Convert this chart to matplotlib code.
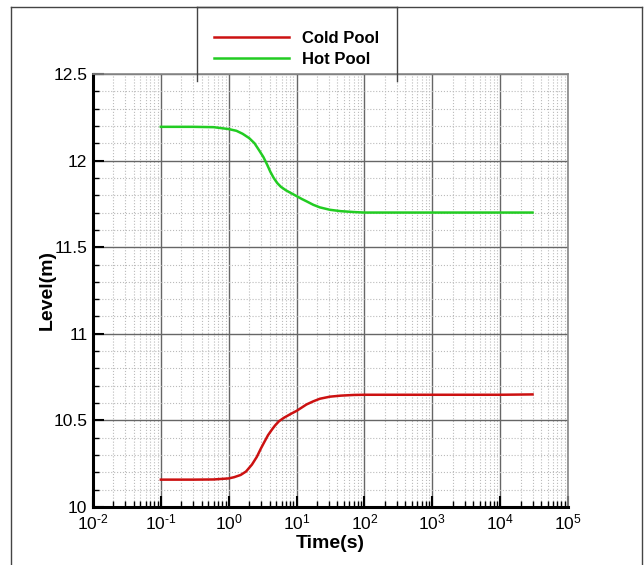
import numpy as np
import matplotlib
matplotlib.use('Agg')
import matplotlib.pyplot as plt
from matplotlib.lines import Line2D
from matplotlib.ticker import LogLocator, MultipleLocator

plt.rcParams['font.family'] = ['Liberation Sans', 'DejaVu Sans']
plt.rcParams['mathtext.fontset'] = 'custom'
plt.rcParams['mathtext.rm'] = 'Liberation Sans'
plt.rcParams['mathtext.it'] = 'Liberation Sans:italic'
plt.rcParams['mathtext.bf'] = 'Liberation Sans:bold'

# data
t_cold = [0.1, 0.3, 0.6, 1.0, 1.2, 1.5, 1.8, 2.2, 2.6, 3.0, 3.4, 3.8, 4.3, 4.8, 5.5, 6.5, 8.0,
          10, 12, 14, 17.6, 22, 31, 45, 70, 100, 1000, 1e4, 3e4]
cold = [10.158, 10.158, 10.159, 10.165, 10.172, 10.185, 10.205, 10.245, 10.29, 10.34, 10.38, 10.415,
        10.445, 10.47, 10.495, 10.515, 10.535, 10.555, 10.575, 10.592, 10.61, 10.625, 10.637, 10.643,
        10.647, 10.648, 10.648, 10.648, 10.65]
t_hot = [0.1, 0.3, 0.6, 1.0, 1.3, 1.6, 2.0, 2.4, 2.8, 3.25, 3.7, 4.1, 4.6, 5.2, 5.9, 7.0, 8.5,
         10, 12, 14, 17.6, 22, 31, 45, 70, 100, 1000, 1e4, 3e4]
hot = [12.195, 12.195, 12.193, 12.182, 12.172, 12.155, 12.13, 12.10, 12.06, 12.02, 11.975, 11.936,
       11.90, 11.87, 11.848, 11.828, 11.81, 11.795, 11.778, 11.765, 11.745, 11.73, 11.716, 11.708,
       11.703, 11.70, 11.70, 11.70, 11.70]


def exp_label(v, pos):
    e = int(round(np.log10(v)))
    if e < 0:
        return r'$\mathdefault{10^{\text{-}%d}}$' % (-e)
    return r'$\mathdefault{10^{%d}}$' % e


fig = plt.figure(figsize=(6.44, 5.65), dpi=100)
ax = fig.add_axes([93/644, 1 - 507/565, (568 - 93)/644, (507 - 74)/565])

ax.plot(t_cold, cold, color='#cc1111', lw=1.8, label='Cold Pool', zorder=3)
ax.plot(t_hot, hot, color='#22cc22', lw=1.8, label='Hot Pool', zorder=3)

ax.set_xscale('log')
ax.set_xlim(1e-2, 1e5)
ax.set_ylim(10, 12.5)
ax.xaxis.set_major_locator(LogLocator(base=10, numticks=20))
ax.xaxis.set_minor_locator(LogLocator(base=10, subs=np.arange(2, 10), numticks=20))
ax.xaxis.set_major_formatter(plt.FuncFormatter(exp_label))
ax.yaxis.set_major_locator(MultipleLocator(0.5))
ax.yaxis.set_minor_locator(MultipleLocator(0.1))
ax.yaxis.set_major_formatter(plt.FuncFormatter(lambda v, p: f'{v:g}'))

ax.grid(which='major', color='#666666', lw=1.0, ls='-', zorder=1)
ax.grid(which='minor', color='#bbbbbb', lw=0.8, ls=':', zorder=1)

ax.tick_params(which='both', direction='in', top=False, right=False, labelsize=12.5, width=1.5)
ax.tick_params(which='major', length=8, pad=4)
ax.tick_params(which='minor', length=4, width=1.0)

for s in ('left', 'bottom'):
    ax.spines[s].set_linewidth(2.2)
    ax.spines[s].set_color('black')
for s in ('top', 'right'):
    ax.spines[s].set_linewidth(1.2)
    ax.spines[s].set_color('#888888')

ax.set_xlabel('Time(s)', fontsize=14, fontweight='bold', labelpad=2)
ax.set_ylabel('Level(m)', fontsize=14, fontweight='bold', labelpad=-2)

# legend entries, frame drawn separately (open at the bottom)
leg = fig.legend(loc='upper left', bbox_to_anchor=(214/644, 1 - 31/565), bbox_transform=fig.transFigure,
                 frameon=False, borderaxespad=0, borderpad=0,
                 prop={'weight': 'bold', 'size': 12}, handlelength=4.5, handletextpad=0.8,
                 labelspacing=0.37)

box_l, box_r, box_t, box_b = 197/644, 397/644, 1 - 7/565, 1 - 81/565
for xs, ys in (([box_l, box_l], [box_b, box_t]),
               ([box_l, box_r], [box_t, box_t]),
               ([box_r, box_r], [box_b, box_t])):
    fig.add_artist(Line2D(xs, ys, color='#444444', lw=1.0, transform=fig.transFigure))

# outer frame
for xs, ys in (([11/644, 11/644], [0, 1 - 7/565]),
               ([11/644, 642/644], [1 - 7/565, 1 - 7/565]),
               ([642/644, 642/644], [0, 1 - 7/565])):
    fig.add_artist(Line2D(xs, ys, color='#444444', lw=1.0, transform=fig.transFigure))

fig.savefig('out.png', dpi=100)
